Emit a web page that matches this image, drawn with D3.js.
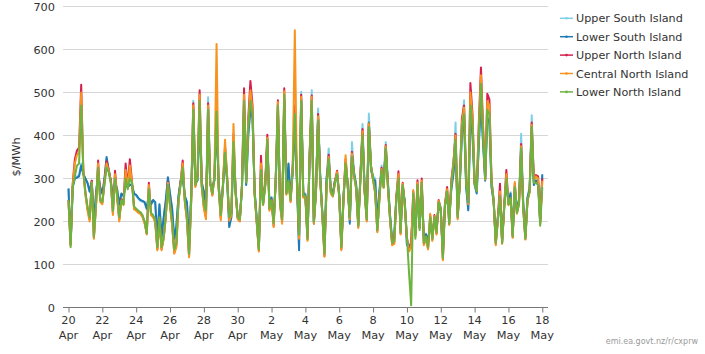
<!DOCTYPE html>
<html>
<head>
<meta charset="utf-8">
<script src="https://cdn.jsdelivr.net/npm/d3@7"></script>
<style>
  html, body { margin: 0; padding: 0; background: #fff; }
  svg { display: block; font-family: "DejaVu Sans", sans-serif; }
</style>
</head>
<body>
<div id="chart"></div>
<script>
// samples, every 3 hours from 20 Apr 00:00 to 18 May 00:00
const startTime = Date.UTC(2019, 3, 20);
const stepHours = 3;

const seriesNames = ["Upper South Island", "Lower South Island", "Upper North Island", "Central North Island", "Lower North Island"];
const seriesColors = ["#7fd0e6", "#1f7ab5", "#d6204c", "#f7931e", "#6db33f"];

const upperSouth = [
  275,150,282,302,305,308,335,312, 298,288,268,293,198,262,312,278, 263,298,345,318,293,252,292,273, 238,263,258,287,280,287,287,263,
  260,253,248,246,243,228,267,238, 248,243,158,238,163,208,248,300, 263,228,158,188,258,293,302,258, 243,148,262,481,292,297,470,292,
  268,238,489,287,282,297,460,287, 223,282,352,297,190,212,372,272, 212,207,277,465,287,405,465,445, 272,207,142,318,247,287,385,242,
  257,202,297,460,252,212,485,272, 332,258,318,445,292,140,502,268, 265,168,350,505,205,275,463,310, 222,138,302,370,278,268,298,308,
  265,148,258,338,290,200,385,315, 288,198,305,427,278,212,451,325, 305,300,205,275,330,305,385,295, 218,158,168,258,300,182,282,248,
  148,148,148,252,172,282,188,282, 162,172,158,192,178,202,182,242, 228,128,245,262,215,280,325,430, 218,290,415,482,285,230,460,410,
  288,268,385,490,385,298,445,435, 282,248,158,212,258,158,238,292, 248,268,172,278,228,255,404,245, 168,258,280,447,290,298,292,205,
  305
];
const lowerSouth = [
  277,150,280,300,302,305,330,310, 300,290,270,295,200,265,310,280, 265,300,350,320,295,255,290,275, 240,265,260,285,280,285,285,265,
  262,255,250,248,245,230,265,240, 250,245,160,240,165,210,250,303, 265,230,160,190,260,295,300,260, 245,150,260,420,290,295,440,290,
  270,240,430,285,280,295,440,285, 225,280,350,295,187,210,370,270, 210,205,275,460,285,400,460,440, 270,205,140,315,245,285,380,240,
  255,200,295,455,250,210,480,270, 335,255,315,440,290,133,485,265, 262,165,345,470,195,272,440,305, 218,135,300,340,275,265,295,305,
  262,145,255,330,288,195,355,312, 285,195,300,405,275,210,430,320, 300,295,200,270,315,300,365,290, 215,155,165,255,295,180,280,245,
  145,145,145,250,170,280,185,280, 160,170,155,190,175,200,180,240, 225,125,240,255,210,275,310,370, 215,285,400,440,280,226,450,400,
  285,265,380,480,380,295,440,430, 280,245,155,210,255,155,235,290, 245,265,170,275,225,250,360,240, 165,255,275,410,285,295,290,200,
  310
];
const upperNorth = [
  250,145,288,345,365,372,518,320, 268,230,205,295,162,238,342,250, 245,292,340,320,295,220,318,258, 205,252,242,335,280,345,294,232,
  228,222,220,212,198,172,290,218, 212,200,136,207,136,162,212,292, 238,195,128,145,248,292,342,248, 205,120,248,475,283,308,505,283,
  235,210,475,290,262,308,470,278, 208,284,375,304,205,218,403,268, 208,202,285,510,295,440,527,470, 265,198,132,353,240,288,402,228,
  250,190,305,482,242,200,510,265, 292,248,328,470,298,165,495,258, 258,158,358,493,198,268,450,298, 218,120,285,355,268,260,295,318,
  258,136,250,345,285,208,362,308, 278,188,305,415,270,203,427,330, 298,268,178,258,325,280,378,282, 208,148,150,258,317,172,290,238,
  162,135,142,270,168,296,188,300, 148,162,138,215,158,215,172,250, 230,112,242,280,195,296,338,404, 208,295,440,470,296,242,522,450,
  290,275,430,558,420,300,497,484, 295,250,148,208,288,150,238,320, 240,255,164,288,220,245,380,230, 160,250,270,430,298,308,305,198,
  300
];
const centralNorth = [
  245,145,285,335,355,360,500,318, 262,225,200,292,160,235,335,245, 240,290,335,318,292,215,310,255, 200,248,238,320,278,330,292,228,
  225,220,218,210,195,170,285,215, 210,198,133,205,133,160,210,290, 235,190,125,140,245,290,335,245, 200,117,245,470,280,305,495,280,
  230,205,470,288,260,305,613,275, 203,282,390,302,202,215,427,265, 205,200,282,495,292,430,505,460, 262,195,130,335,238,285,395,225,
  248,187,302,478,240,195,503,262, 290,245,325,645,295,160,490,255, 255,155,355,490,195,265,445,295, 215,118,282,350,265,258,292,315,
  255,133,248,354,282,205,358,305, 275,185,302,410,268,200,428,328, 295,265,175,255,322,278,375,280, 205,145,148,255,310,170,288,235,
  160,130,140,273,165,290,185,295, 145,160,135,218,155,212,170,248, 228,110,240,275,192,290,335,400, 205,292,430,465,296,240,500,440,
  288,272,420,540,410,298,480,470, 292,248,145,205,270,148,235,310, 238,252,162,292,218,242,375,228, 158,248,268,425,295,305,300,195,
  295
];
const lowerNorth = [
  250,140,280,305,330,335,470,315, 265,235,210,290,165,240,325,250, 245,285,325,315,290,225,300,260, 210,250,240,300,275,300,290,235,
  230,225,222,215,200,172,275,220, 215,205,140,210,140,165,215,285, 240,200,135,150,250,285,325,250, 210,125,250,460,285,300,480,285,
  240,225,460,290,265,300,455,280, 215,280,360,300,210,220,385,270, 210,205,280,480,290,420,480,450, 265,200,135,320,240,280,390,230,
  250,196,300,470,242,205,495,265, 295,250,320,450,300,170,480,260, 260,160,350,480,200,270,435,300, 220,125,280,345,270,260,290,310,
  260,140,250,335,285,210,350,310, 280,190,300,400,270,205,420,330, 300,270,180,250,320,280,370,285, 210,150,155,250,300,175,285,240,
  165,80,5,265,160,285,180,290, 150,165,140,210,160,210,175,245, 230,115,235,270,195,285,330,390, 210,290,420,450,285,245,470,420,
  290,270,400,520,400,300,460,450, 290,250,150,200,260,150,230,300, 240,255,165,280,220,240,370,230, 160,250,270,420,290,290,285,190,
  280
];

const yTicks = [0, 100, 200, 300, 400, 500, 600, 700];
const yLabel = "$/MWh";
const sourceText = "emi.ea.govt.nz/r/cxprw";

const width = 705, height = 354;
const allSeries = [upperSouth, lowerSouth, upperNorth, centralNorth, lowerNorth];

const svg = d3.select("#chart").append("svg").attr("width", width).attr("height", height);

const endTime = startTime + (lowerNorth.length - 1) * stepHours * 3600e3;
const x = d3.scaleUtc().domain([startTime, endTime]).range([68.5, 542.3]);
const y = d3.scaleLinear().domain([0, 700]).range([307.5, 6.5]);

// gridlines + y labels
svg.append("g")
  .selectAll("line")
  .data(yTicks.filter(d => d > 0))
  .enter().append("line")
  .attr("x1", 63).attr("x2", 548)
  .attr("y1", d => y(d)).attr("y2", d => y(d))
  .attr("stroke", "#d6d6d6").attr("stroke-width", 1);

svg.append("g")
  .selectAll("text")
  .data(yTicks)
  .enter().append("text")
  .attr("x", 55).attr("y", d => y(d)).attr("dy", "0.36em")
  .attr("text-anchor", "end")
  .attr("font-size", 11.3).attr("fill", "#333")
  .text(d => d);

svg.append("text")
  .attr("transform", "translate(20,157) rotate(-90)")
  .attr("text-anchor", "middle")
  .attr("font-size", 11.3).attr("fill", "#333")
  .text(yLabel);

// x axis
const tickDates = d3.utcDay.range(startTime, endTime + 1).filter((d, i) => i % 2 === 0);
const xAxis = svg.append("g")
  .attr("transform", "translate(0,307.5)")
  .call(d3.axisBottom(x).tickValues(tickDates).tickSize(5).tickFormat(""));
xAxis.select(".domain").remove();
xAxis.selectAll(".tick line").attr("stroke", "#777");
svg.append("line")
  .attr("x1", 63).attr("x2", 548).attr("y1", 307.5).attr("y2", 307.5)
  .attr("stroke", "#777").attr("stroke-width", 1);

const tickText = svg.append("g")
  .selectAll("text")
  .data(tickDates)
  .enter().append("text")
  .attr("text-anchor", "middle")
  .attr("font-size", 11.3).attr("fill", "#333");
tickText.append("tspan").attr("x", d => x(d)).attr("y", 324).text(d => d3.utcFormat("%-d")(d));
tickText.append("tspan").attr("x", d => x(d)).attr("y", 338.5).text(d => d3.utcFormat("%b")(d));

// lines
const line = d3.line()
  .x((d, i) => x(startTime + i * stepHours * 3600e3))
  .y(d => y(d));

svg.append("g")
  .selectAll("path")
  .data(allSeries)
  .enter().append("path")
  .attr("d", d => line(d))
  .attr("fill", "none")
  .attr("stroke", (d, i) => seriesColors[i])
  .attr("stroke-width", 2)
  .attr("stroke-linejoin", "round");

// legend
const legend = svg.append("g")
  .selectAll("g")
  .data(seriesNames)
  .enter().append("g")
  .attr("transform", (d, i) => "translate(560," + (18.3 + i * 18.4) + ")");
legend.append("line")
  .attr("x1", 0).attr("x2", 13).attr("y1", 0).attr("y2", 0)
  .attr("stroke", (d, i) => seriesColors[i]).attr("stroke-width", 1.5);
legend.append("circle")
  .attr("cx", 6.5).attr("cy", 0).attr("r", 1.3)
  .attr("fill", (d, i) => seriesColors[i]);
legend.append("text")
  .attr("x", 16).attr("y", 0).attr("dy", "0.36em")
  .attr("font-size", 11.2).attr("fill", "#333")
  .text(d => d);

svg.append("text")
  .attr("x", 698).attr("y", 344)
  .attr("text-anchor", "end")
  .attr("font-size", 8).attr("fill", "#9a9a9a")
  .text(sourceText);
</script>
</body>
</html>
